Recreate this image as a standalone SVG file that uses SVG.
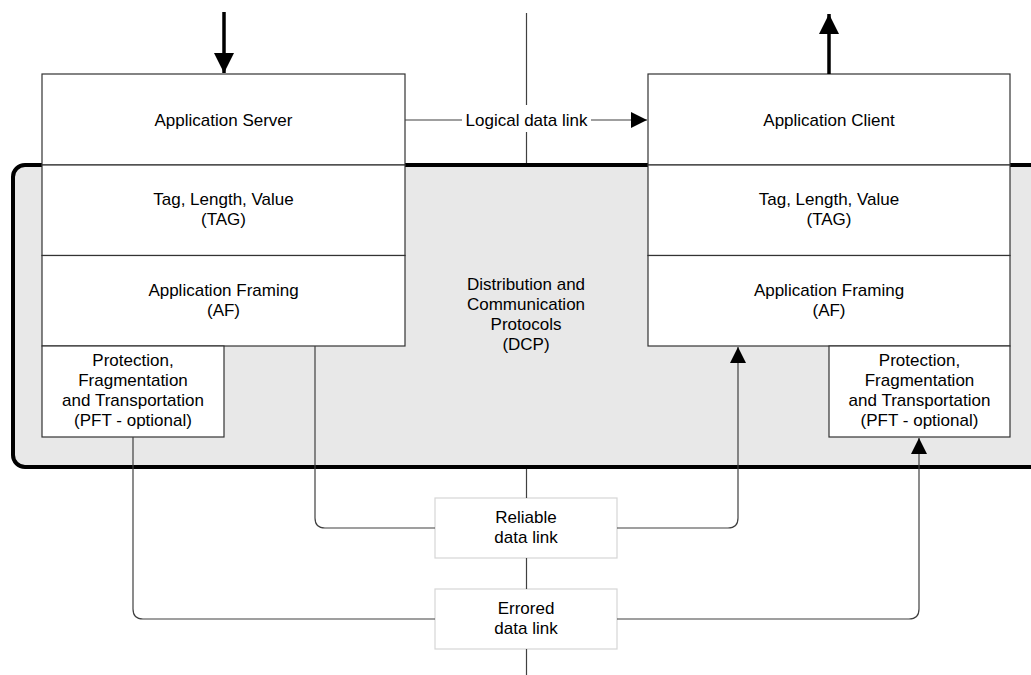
<svg xmlns="http://www.w3.org/2000/svg" width="1031" height="675" viewBox="0 0 1031 675">
<defs>
<style>
text{font-family:"Liberation Sans",Arial,sans-serif;font-size:17px;fill:#000;text-anchor:middle}
.box{fill:#fff;stroke:#333;stroke-width:1.2}
.lbl{fill:#fff;stroke:#d6d6d6;stroke-width:1.2}
.ln{fill:none;stroke:#404040;stroke-width:1.2}
.thick{fill:none;stroke:#000;stroke-width:4}
</style>
<marker id="ah" viewBox="0 0 16 16" refX="16" refY="8" markerWidth="16" markerHeight="16" markerUnits="userSpaceOnUse" orient="auto">
<path d="M0,0 L16,8 L0,16 Z" fill="#000"/>
</marker>
<marker id="ahb" viewBox="0 0 20 20" refX="20" refY="10" markerWidth="20" markerHeight="20" markerUnits="userSpaceOnUse" orient="auto">
<path d="M0,0 L20,10 L0,20 Z" fill="#000"/>
</marker>
</defs>
<rect width="1031" height="675" fill="#fff"/>

<g id="dcp">
<rect x="13" y="165" width="1040" height="302" rx="12" ry="12" fill="#e8e8e8" stroke="#000" stroke-width="4"/>
<text x="526" y="290">Distribution and</text>
<text x="526" y="310">Communication</text>
<text x="526" y="330">Protocols</text>
<text x="526" y="350">(DCP)</text>
</g>

<g id="app-server">
<rect class="box" x="42" y="74" width="363" height="91"/>
<text x="223.5" y="126">Application Server</text>
</g>
<g id="tag-left">
<rect class="box" x="42" y="165" width="363" height="90.5"/>
<text x="223.5" y="205">Tag, Length, Value</text>
<text x="223.5" y="225">(TAG)</text>
</g>
<g id="af-left">
<rect class="box" x="42" y="255.5" width="363" height="90.5"/>
<text x="223.5" y="296">Application Framing</text>
<text x="223.5" y="316">(AF)</text>
</g>
<g id="pft-left">
<rect class="box" x="42" y="346" width="182" height="91"/>
<text x="133" y="366">Protection,</text>
<text x="133" y="386">Fragmentation</text>
<text x="133" y="406">and Transportation</text>
<text x="133" y="426">(PFT - optional)</text>
</g>

<g id="app-client">
<rect class="box" x="648" y="74" width="362" height="91"/>
<text x="829" y="126">Application Client</text>
</g>
<g id="tag-right">
<rect class="box" x="648" y="165" width="362" height="90.5"/>
<text x="829" y="205">Tag, Length, Value</text>
<text x="829" y="225">(TAG)</text>
</g>
<g id="af-right">
<rect class="box" x="648" y="255.5" width="362" height="90.5"/>
<text x="829" y="296">Application Framing</text>
<text x="829" y="316">(AF)</text>
</g>
<g id="pft-right">
<rect class="box" x="829" y="346" width="181" height="91"/>
<text x="919.5" y="366">Protection,</text>
<text x="919.5" y="386">Fragmentation</text>
<text x="919.5" y="406">and Transportation</text>
<text x="919.5" y="426">(PFT - optional)</text>
</g>

<g id="reliable">
<rect class="lbl" x="435" y="498" width="182" height="60"/>
<text x="526" y="523">Reliable</text>
<text x="526" y="543">data link</text>
</g>
<g id="errored">
<rect class="lbl" x="435" y="589" width="182" height="60"/>
<text x="526" y="614">Errored</text>
<text x="526" y="634">data link</text>
</g>

<g id="connectors">
<line class="ln" x1="526.5" y1="13" x2="526.5" y2="105"/>
<line class="ln" x1="526.5" y1="132" x2="526.5" y2="163"/>
<line class="ln" x1="526.5" y1="469" x2="526.5" y2="498"/>
<line class="ln" x1="526.5" y1="558" x2="526.5" y2="589"/>
<line class="ln" x1="526.5" y1="649" x2="526.5" y2="675"/>
<line class="ln" x1="405" y1="120" x2="462" y2="120"/>
<line class="ln" x1="591" y1="120" x2="647" y2="120" marker-end="url(#ah)"/>
<text x="526.5" y="126">Logical data link</text>
<line x1="224" y1="12" x2="224" y2="73" stroke="#000" stroke-width="3.5" marker-end="url(#ahb)"/>
<line x1="829" y1="74" x2="829" y2="14" stroke="#000" stroke-width="3.5" marker-end="url(#ahb)"/>
<path class="ln" d="M315,346 V518 Q315,528 325,528 H435"/>
<path class="ln" d="M617,528 H728 Q738,528 738,518 V347" marker-end="url(#ah)"/>
<path class="ln" d="M133,437 V609 Q133,619 143,619 H435"/>
<path class="ln" d="M617,619 H909 Q919,619 919,609 V438" marker-end="url(#ah)"/>
</g>
</svg>
